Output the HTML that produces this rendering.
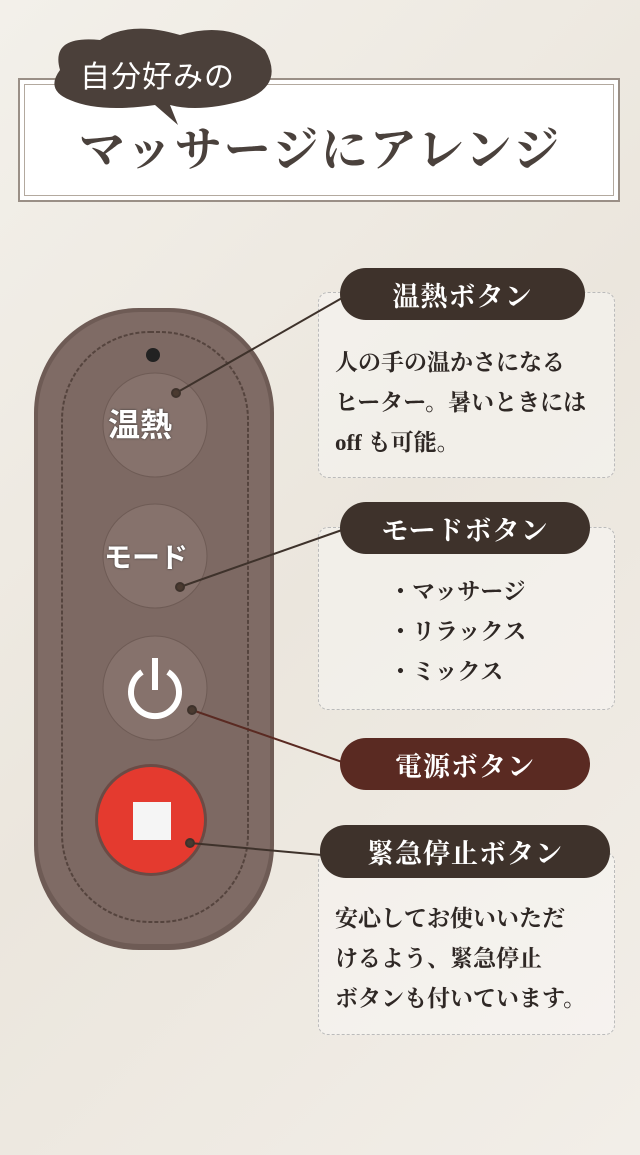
<!DOCTYPE html>
<html><head><meta charset="utf-8"><style>
body{margin:0;width:640px;height:1155px;overflow:hidden;background:linear-gradient(135deg,#f3f0ea,#ebe6dd 50%,#f2eee8);font-family:"Liberation Serif","Noto Serif CJK SC",serif;position:relative}
.a{position:absolute}
.pill{position:absolute;border-radius:26px;color:#fff;font-weight:bold;font-size:27px;display:flex;align-items:center;justify-content:center;letter-spacing:1px}
.box{position:absolute;border:1.5px dashed #bbb;border-radius:10px;background:rgba(255,255,255,.35);color:#2f2825;font-weight:bold;font-size:23px;line-height:40px}
</style></head><body>
<div class="a" style="left:18px;top:78px;width:602px;height:124px;background:#fff;border:2px solid #9a8f86;box-sizing:border-box"></div>
<div class="a" style="left:24px;top:84px;width:590px;height:112px;border:1px solid #b3a99f;box-sizing:border-box"></div>
<div class="a" style="left:0;top:113px;width:640px;text-align:center;font-size:47px;color:#4a413c;font-weight:bold;letter-spacing:2px">マッサージにアレンジ</div>
<svg class="a" style="left:40px;top:25px" width="250" height="100"><path d="M20 45 Q10 10 60 15 Q90 -5 140 10 Q190 -5 225 25 Q245 60 205 75 Q160 88 130 80 L138 100 L115 80 Q60 88 30 75 Q5 65 20 45Z" fill="#4b403a"/></svg>
<div class="a" style="left:80px;top:52px;font-size:30px;color:#fff;letter-spacing:1px;font-family:'Liberation Sans','Noto Sans CJK JP',sans-serif">自分好みの</div>
<svg class="a" style="left:0;top:300px" width="330" height="660">
<rect x="34" y="8" width="240" height="642" rx="105" fill="#6e5b55"/>
<rect x="38" y="12" width="232" height="632" rx="102" fill="#7f6b65"/>
<rect x="62" y="32" width="186" height="590" rx="88" fill="#7d6963" stroke="#55443e" stroke-width="2" stroke-dasharray="4 2"/>
<circle cx="153" cy="55" r="7" fill="#222"/>
<circle cx="155" cy="125" r="52" fill="#86726c" stroke="#6e5b55"/>
<circle cx="155" cy="256" r="52" fill="#86726c" stroke="#6e5b55"/>
<circle cx="155" cy="388" r="52" fill="#86726c" stroke="#6e5b55"/>
<path d="M142 372 A24 24 0 1 0 168 372" fill="none" stroke="#fff" stroke-width="6"/><line x1="155" y1="358" x2="155" y2="390" stroke="#fff" stroke-width="6"/>
<circle cx="151" cy="520" r="56" fill="#6b4b45"/>
<circle cx="151" cy="520" r="53" fill="#e43a2f"/>
<rect x="133" y="502" width="38" height="38" fill="#f5f5f5"/>
</svg>
<div class="a" style="left:108px;top:400px;font-size:32px;color:#fff;font-weight:bold;font-family:'Liberation Sans','Noto Sans CJK JP',sans-serif;text-shadow:0 0 2px #333">温熱</div>
<div class="a" style="left:104px;top:536px;font-size:28px;color:#fff;font-weight:bold;font-family:'Liberation Sans','Noto Sans CJK JP',sans-serif;text-shadow:0 0 2px #333">モード</div>
<div class="box" style="left:318px;top:292px;width:297px;height:186px;padding:50px 0 0 16px;box-sizing:border-box">人の手の温かさになる<br>ヒーター。暑いときには<br>off も可能。</div>
<div class="box" style="left:318px;top:527px;width:297px;height:183px;padding:44px 0 0 70px;box-sizing:border-box">・マッサージ<br>・リラックス<br>・ミックス</div>
<div class="box" style="left:318px;top:852px;width:297px;height:183px;padding:46px 0 0 16px;box-sizing:border-box">安心してお使いいただ<br>けるよう、緊急停止<br>ボタンも付いています。</div>
<div class="pill" style="left:340px;top:268px;width:245px;height:52px;background:#3e322b">温熱ボタン</div>
<div class="pill" style="left:340px;top:502px;width:250px;height:52px;background:#3e322b">モードボタン</div>
<div class="pill" style="left:340px;top:738px;width:250px;height:52px;background:#5a2a22">電源ボタン</div>
<div class="pill" style="left:320px;top:825px;width:290px;height:53px;background:#3e322b">緊急停止ボタン</div>
<svg class="a" style="left:0;top:0" width="640" height="1155">
<g stroke="#3e322b" stroke-width="2" fill="#4a3a30">
<line x1="176" y1="393" x2="342" y2="298"/><circle cx="176" cy="393" r="4"/>
<line x1="180" y1="587" x2="342" y2="530"/><circle cx="180" cy="587" r="4"/>
<line x1="192" y1="710" x2="345" y2="763" stroke="#5a2a22"/><circle cx="192" cy="710" r="4"/>
<line x1="190" y1="843" x2="322" y2="855"/><circle cx="190" cy="843" r="4"/>
</g></svg>
</body></html>
